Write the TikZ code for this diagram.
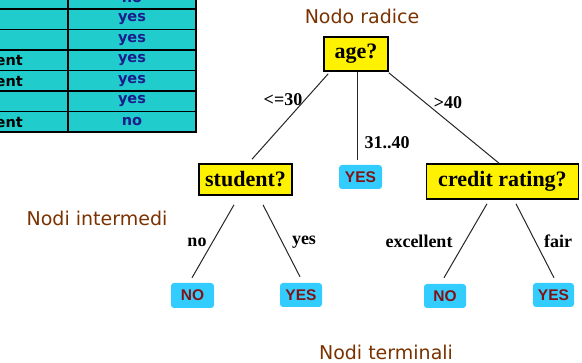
\documentclass[tikz,border=0pt]{standalone}
\usepackage{fontspec}
\setmainfont{Liberation Serif}
\newfontfamily\tahoma{DejaVu Sans}
\newfontfamily\arialf{Liberation Sans}
\definecolor{brownlbl}{RGB}{122,50,0}
\definecolor{leafblue}{RGB}{51,204,255}
\definecolor{leaftxt}{RGB}{128,20,20}
\definecolor{tabfill}{RGB}{32,204,204}
\definecolor{tabtxt}{RGB}{28,28,140}
\tikzset{
  testbox/.style={draw=black, line width=1.6pt, fill=yellow, inner sep=0pt,
    font=\bfseries\fontsize{22}{22}\selectfont},
  leafbox/.style={fill=leafblue, rounded corners=3pt, inner sep=0pt,
    text=leaftxt, font=\arialf\bfseries\fontsize{15.5}{15.5}\selectfont},
  edge/.style={draw=black!85, line width=1pt},
  elabel/.style={inner sep=0pt, font=\bfseries\fontsize{18}{18}\selectfont},
  caption/.style={inner sep=0pt, text=brownlbl, font=\tahoma\fontsize{19}{19}\selectfont},
  cell/.style={draw=black, line width=1.5pt, fill=tabfill},
  celltxt/.style={inner sep=0pt, font=\tahoma\bfseries\fontsize{14.5}{14.5}\selectfont}
}
\begin{document}
\begin{tikzpicture}[x=1pt,y=-1pt]
\useasboundingbox (0,0) rectangle (582,363);
\clip (0,0) rectangle (582,363);
% table fragment
\foreach \t/\b in {-11.5/9, 9/29.5, 29.5/50, 50/70.5, 70.5/91, 91/111.5, 111.5/132}{
  \draw[cell] (-10,\t) rectangle (68,\b);
  \draw[cell] (68,\t) rectangle (196,\b);
}
\node[celltxt, text=tabtxt] (r1) at (132,-1.25) {no};
\node[celltxt, text=tabtxt] (r2) at (132,19.25) {yes};
\node[celltxt, text=tabtxt] (r3) at (132,39.75) {yes};
\node[celltxt, text=tabtxt] (r4) at (132,60.25) {yes};
\node[celltxt, text=tabtxt] (r5) at (132,80.75) {yes};
\node[celltxt, text=tabtxt] (r6) at (132,101.25) {yes};
\node[celltxt, text=tabtxt] (r7) at (132,121.75) {no};
\node[celltxt, anchor=east] (l4) at (23,60.25) {excellent};
\node[celltxt, anchor=east] (l5) at (23,80.75) {excellent};
\node[celltxt, anchor=east] (l7) at (23,121.75) {excellent};
% captions
\node[caption] (croot) at (362,16) {Nodo radice};
\node[caption] (cint) at (97,218) {Nodi intermedi};
\node[caption] (cterm) at (386,352) {Nodi terminali};
% tree nodes
\node[testbox, minimum width=64pt, minimum height=34pt] (age) at (356,54) {age?};
\node[testbox, minimum width=93pt, minimum height=31pt] (student) at (245.5,179.5) {student?};
\node[testbox, minimum width=152pt, minimum height=35pt] (credit) at (502.5,181.5) {credit rating?};
\node[leafbox, minimum width=43pt, minimum height=24pt] (yesm) at (360.5,177) {YES};
\node[leafbox, minimum width=43pt, minimum height=25pt] (nol) at (192.5,295.5) {NO};
\node[leafbox, minimum width=42pt, minimum height=24pt] (yess) at (301,295) {YES};
\node[leafbox, minimum width=42pt, minimum height=24pt] (nor) at (445,296) {NO};
\node[leafbox, minimum width=41pt, minimum height=24pt] (yesr) at (553.5,295) {YES};
% connectors
\draw[edge] ([shift={(5,2)}]age.south west) -- ([shift={(6.5,-4)}]student.north);
\draw[edge] ([shift={(1,0)}]age.south) -- ([shift={(-3.5,-5)}]yesm.north);
\draw[edge] ([shift={(0,1)}]age.south east) -- ([shift={(-3.5,0)}]credit.north);
\draw[edge] ([shift={(-11.5,9)}]student.south) -- ([shift={(-0.5,-5)}]nol.north);
\draw[edge] ([shift={(17.5,9)}]student.south) -- ([shift={(-1,-6)}]yess.north);
\draw[edge] ([shift={(-15.5,4)}]credit.south) -- ([shift={(-1,-6)}]nor.north);
\draw[edge] ([shift={(13.5,4)}]credit.south) -- ([shift={(0.5,-5)}]yesr.north);
% edge labels
\node[elabel] (e1) at (283,100) {<=30};
\node[elabel] (e2) at (387,143) {31..40};
\node[elabel] (e3) at (448,103) {>40};
\node[elabel] (e4) at (197,242) {no};
\node[elabel] (e5) at (304,242) {yes};
\node[elabel] (e6) at (419,241) {excellent};
\node[elabel] (e7) at (558,241) {fair};
\end{tikzpicture}
\end{document}
